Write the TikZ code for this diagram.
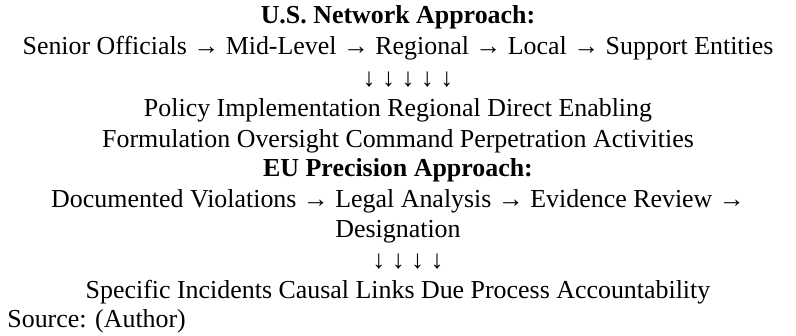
\documentclass[tikz,border=0pt]{standalone}
\usepackage{fontspec}
\setmainfont{Liberation Serif}
\begin{document}
\begin{tikzpicture}[x=0.467pt,y=-0.467pt,
  textline/.style={anchor=base,inner sep=0pt,font=\fontsize{12.1}{14}\selectfont},
  heading/.style={textline,font=\fontsize{12.1}{14}\selectfont\bfseries}]

\useasboundingbox (0,0) rectangle (796,335);

% network approach
\node[heading] (usTitle) at (398,23) {U.S. Network Approach:};
\node[textline] (usChain) at (398,54) {Senior Officials → Mid-Level → Regional → Local → Support Entities};
\node[textline] (usArrows) at (408,86) {↓ ↓ ↓ ↓ ↓};
\node[textline] (usRoleA) at (398,116) {Policy Implementation Regional Direct Enabling};
\node[textline] (usRoleB) at (398,147) {Formulation Oversight Command Perpetration Activities};

% precision approach
\node[heading] (euTitle) at (398,176) {EU Precision Approach:};
\node[textline] (euChain) at (398,207) {Documented Violations → Legal Analysis → Evidence Review →};
\node[textline] (euLast) at (398,237) {Designation};
\node[textline] (euArrows) at (408,268) {↓ ↓ ↓ ↓};
\node[textline] (euRole) at (398,298) {Specific Incidents Causal Links Due Process Accountability};

\node[textline,anchor=base west] (source) at (7,327) {Source: (Author)};

\end{tikzpicture}
\end{document}
